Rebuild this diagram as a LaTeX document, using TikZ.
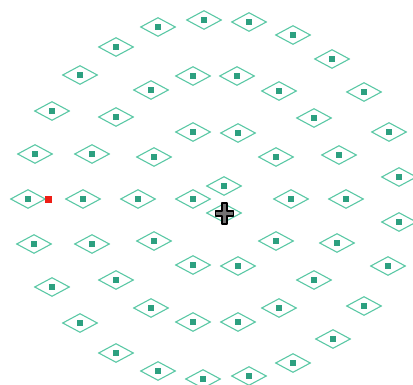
\documentclass[tikz,border=0pt]{standalone}
\usetikzlibrary{shapes.geometric}
\definecolor{dline}{RGB}{90,200,165}
\definecolor{dfill}{RGB}{45,160,128}
\definecolor{redsq}{RGB}{238,30,22}
\tikzset{
  cell/.style={diamond, draw=dline, line width=1.1pt, minimum width=35pt, minimum height=19pt, inner sep=0pt},
  dot/.style={fill=dfill, draw=none, minimum size=6pt, inner sep=0pt},
  marker/.style={fill=redsq, draw=none, minimum size=7pt, inner sep=0pt}
}
\begin{document}
\begin{tikzpicture}[x=1pt,y=-1pt]
\useasboundingbox (0,0) rectangle (413,385);
\foreach \n/\px/\py in {
1/158/27, 2/204/20, 3/249/22, 4/293/35, 5/332/59,
6/116/47, 7/80/75, 8/193/76, 9/237/76, 10/151/90,
11/279/91, 12/364/92, 13/52/111, 14/116/117, 15/314/118,
16/193/132, 17/238/133, 18/389/132, 19/35/154, 20/92/154,
21/154/157, 22/276/157, 23/339/155, 24/399/177, 25/224/186,
26/28/199, 27/83/199, 28/138/199, 29/193/199, 30/291/199,
31/346/199, 32/224/213, 33/399/222, 34/34/244, 35/92/244,
36/154/241, 37/276/241, 38/337/243, 39/193/265, 40/238/266,
41/388/266, 42/52/287, 43/116/280, 44/314/280, 45/151/308,
46/279/308, 47/364/306, 48/80/323, 49/193/322, 50/238/322,
51/333/339, 52/116/353, 53/293/363, 54/158/371, 55/203/379,
56/249/376}{
  \node[cell] (d\n) at (\px,\py) {};
  \node[dot] (s\n) at (d\n.center) {};
}
\node[marker] (red) at (48,199.5) {};
% cursor
\coordinate (cur) at (224.5,213.5);
\draw[black, line width=1.2pt, fill=black!55, line join=round]
  ([shift={(-2.5,-10.5)}]cur) -- ([shift={(2.5,-10.5)}]cur) -- ([shift={(2.5,-2.5)}]cur)
  -- ([shift={(9,-2.5)}]cur) -- ([shift={(9,2.5)}]cur) -- ([shift={(2.5,2.5)}]cur)
  -- ([shift={(2.5,10.5)}]cur) -- ([shift={(-2.5,10.5)}]cur) -- ([shift={(-2.5,2.5)}]cur)
  -- ([shift={(-9,2.5)}]cur) -- ([shift={(-9,-2.5)}]cur) -- ([shift={(-2.5,-2.5)}]cur) -- cycle;
\end{tikzpicture}
\end{document}
